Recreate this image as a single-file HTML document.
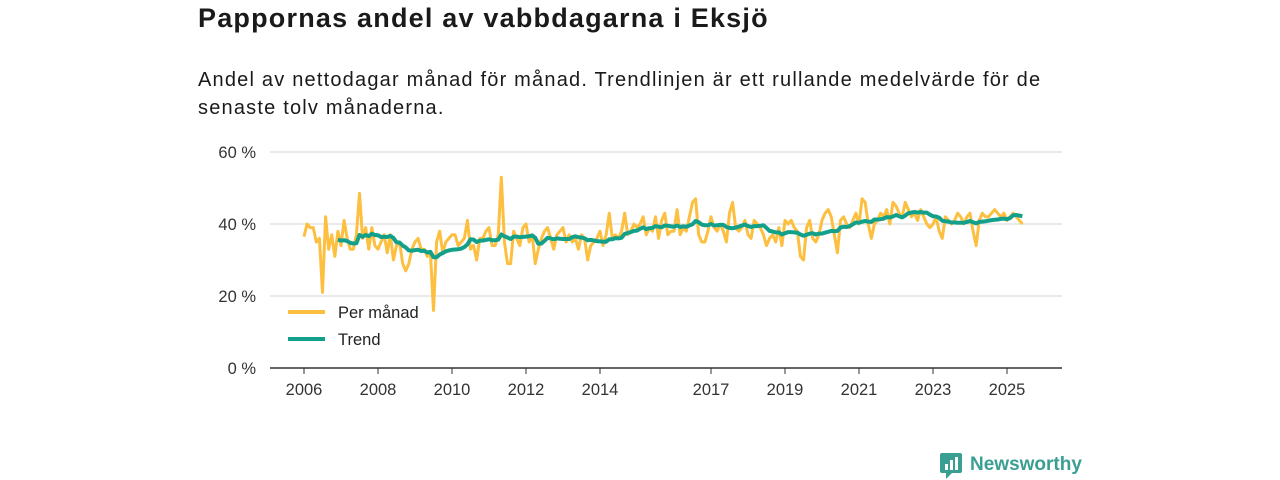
<!DOCTYPE html>
<html><head><meta charset="utf-8"><style>
body{margin:0;width:1280px;height:480px;background:#fff;font-family:"Liberation Sans",sans-serif;color:#1a1a1a;overflow:hidden}
h1{position:absolute;left:198px;top:3px;margin:0;font-size:27px;font-weight:bold;letter-spacing:1.2px}
p{position:absolute;left:198px;top:66px;margin:0;font-size:20px;line-height:28px;width:900px;letter-spacing:1.2px}
svg{position:absolute;left:0;top:0}
</style></head><body>
<h1>Pappornas andel av vabbdagarna i Eksjö</h1>
<p>Andel av nettodagar månad för månad. Trendlinjen är ett rullande medelvärde för de<br>senaste tolv månaderna.</p>
<svg id="chart" width="1280" height="480"></svg>
<script>
const startYear = 2006;
const monthly = [
36.5,40,39,39,35,36,21,42,33,37,31,38,
34,41,36,33,33,37,48.5,36,39,33,39,34,
33,35,37,32,37,30,34,35,29,27,29,33,
35,36,33,33,31,32,16,35,38,32,35,36,
37,37,34,35,36,41,33,34,30,36,36,38,
39,34,34,37,53,35,29,29,38,36,34,39,
40,35,37,29,33,36,38,39,36,33,37,38,
39,35,37,35,36,33,37,36,30,34,35,36,
38,34,37,43,36,37,36,38,43,37,38,40,
39,40,42,37,39,38,42,36,41,43,37,38,
38,44,37,39,38,42,46,47,37,35,35,38,
42,39,38,40,38,35,43,46,39,38,39,41,
37,36,41,40,39,37,34,36,37,35,39,34,
41,40,41,39,38,31,30,39,41,36,35,37,
41,43,44,42,37,32,41,42,40,39,41,43,
40,47,46,40,36,40,41,43,42,44,40,46,
45,43,42,46,44,42,43,41,44,42,40,39,
40,42,38,36,42,41,40,41,43,42,40,42,
43,38,34,41,43,42,42,43,44,43,42,43,
41,42,43,42,41,40];
const yTicks = [0,20,40,60];
const xTicks = [2006,2008,2010,2012,2014,2017,2019,2021,2023,2025];
const svg = document.getElementById('chart');
const NS = 'http://www.w3.org/2000/svg';
const x = t => 304 + (t - startYear) * 37;
const y = v => 368 - v * 3.6;
function el(tag, attrs, parent){const e=document.createElementNS(NS,tag);for(const k in attrs)e.setAttribute(k,attrs[k]);(parent||svg).appendChild(e);return e;}
yTicks.forEach(v=>{
  const g=el('line',{x1:270,x2:1062,y1:y(v),y2:y(v),stroke:v===0?'#333':'#d6d6d6','stroke-width':v===0?1.5:1});
  
  
  const t=el('text',{x:256,y:y(v)+6,'text-anchor':'end','font-size':16.5,fill:'#333'});
  t.textContent=v+' %';
  
  
});
xTicks.forEach(yr=>{
  const tk=el('line',{x1:x(yr),x2:x(yr),y1:368,y2:374,stroke:'#333'});
  
  
  const t=el('text',{x:x(yr),y:395,'text-anchor':'middle','font-size':16.5,fill:'#333'});
  t.textContent=yr;
  
  
});
const pts = monthly.map((v,i)=>[x(startYear+i/12),y(v)]);
const l1=el('polyline',{points:pts.map(p=>p.join(',')).join(' '),fill:'none',stroke:'#fdbf3f','stroke-width':3,'stroke-linejoin':'round'});


const trend=[];
for(let i=11;i<monthly.length;i++){let s=0;for(let j=i-11;j<=i;j++)s+=monthly[j];trend.push([x(startYear+i/12),y(s/12)]);}
const l2=el('polyline',{points:trend.map(p=>p.join(',')).join(' '),fill:'none',stroke:'#13a08a','stroke-width':4,'stroke-linejoin':'round'});


[['Per månad','#fdbf3f',312],['Trend','#13a08a',339]].forEach(([n,c,yy])=>{
  const g=el('g',{});
  
  
  el('line',{x1:288,x2:325,y1:yy,y2:yy,stroke:c,'stroke-width':4},g);
  const t=el('text',{x:338,y:yy+6,'font-size':16.5,fill:'#222'},g);t.textContent=n;
});
const logo=el('g',{});


el('rect',{x:940,y:453,width:22,height:20,rx:2,fill:'#3a9f93'},logo);
el('path',{d:'M946 473 l0 6 l6 -6 z',fill:'#3a9f93'},logo);
el('rect',{x:945,y:464,width:3,height:6,fill:'#fff'},logo);
el('rect',{x:950,y:460,width:3,height:10,fill:'#fff'},logo);
el('rect',{x:955,y:457,width:3,height:13,fill:'#fff'},logo);
const lt=el('text',{x:970,y:470,'font-size':19,'font-weight':'bold',fill:'#3a9f93'},logo);lt.textContent='Newsworthy';
</script>
</body></html>
